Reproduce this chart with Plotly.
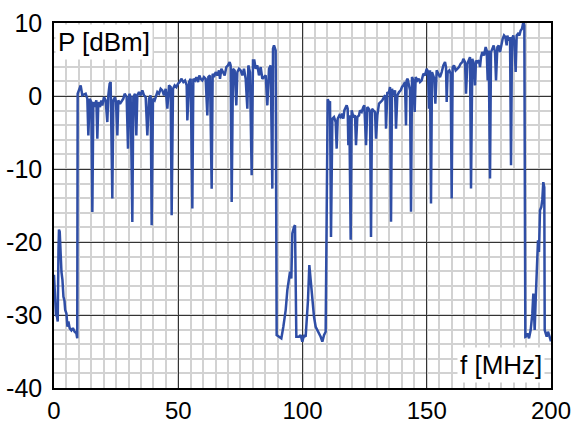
import plotly.graph_objects as go

# Spectrum values (frequency in MHz, power in dBm)
floor1_f = [0.0, 0.3, 0.8, 1.2, 1.5, 1.8, 2.0, 2.3, 2.6, 3.0, 3.4, 3.8, 4.2, 4.5, 5.0, 5.4, 5.8, 6.3, 7.0, 7.6, 8.3, 9.0, 9.35]
floor1_p = [-24.5, -26.1, -30.0, -30.2, -30.9, -21.1, -18.3, -18.6, -21.6, -24.1, -25.2, -27.5, -28.0, -29.3, -29.8, -31.6, -30.9, -31.8, -32.1, -31.8, -32.3, -32.5, -33.2]

band1_f = [9.52, 10.73, 11.40, 12.74, 13.41, 13.82, 14.35, 15.02, 15.43, 15.83, 16.36, 17.04, 17.44, 17.84, 18.51, 19.05, 19.45, 20.12, 20.79, 21.46, 21.86, 22.40, 22.80, 23.47, 23.88, 24.55, 24.95, 25.49, 25.89, 26.56, 27.23, 27.90, 28.44, 29.24, 29.78, 30.32, 30.85, 31.52, 31.92, 32.60, 33.13, 33.53, 34.21, 34.88, 35.55, 36.22, 36.89, 37.56, 38.23, 38.90, 39.30, 39.84, 40.51, 41.05, 41.58, 42.25, 42.92, 43.60, 44.27, 44.94, 45.61, 46.28, 46.95, 47.35, 47.89, 48.56, 49.23, 49.90, 50.57, 51.24, 52.05, 52.72, 53.39, 53.66, 54.33, 55.00, 55.67, 56.07, 56.74, 57.28, 57.95, 58.48, 59.02, 59.69, 60.36, 61.03, 61.70, 62.11, 62.78, 63.45, 63.85, 64.39, 65.06, 65.73, 66.40, 66.80, 67.34, 68.01, 68.68, 69.35, 70.02, 70.69, 71.09, 71.50, 72.03, 72.70, 73.37, 73.78, 74.45, 75.12, 75.79, 76.46, 77.13, 77.80, 78.20, 78.87, 79.54, 80.08, 80.62, 81.15, 81.82, 82.49, 83.17, 83.84, 84.51, 85.18, 85.85, 86.52, 87.19, 87.86, 88.13, 88.53, 89.20]
band1_p = [0.31, 1.45, 0.08, 0.31, -0.37, -5.39, -0.37, -0.83, -15.88, -0.83, -1.51, -0.60, -5.85, -0.83, -1.51, -0.60, -1.29, -0.15, -0.60, -3.57, 0.08, 1.68, 1.91, -14.05, -0.60, -0.15, -0.83, -5.39, -0.60, -1.06, -0.60, -0.37, 0.31, -0.15, -7.21, 0.31, -0.15, -17.25, -0.15, 0.31, -5.39, 0.08, 0.54, 0.08, 0.77, 0.08, -0.15, -5.39, -0.37, 0.08, -17.70, -0.37, -0.60, 0.08, 0.54, 0.31, 0.99, 0.77, 0.08, 0.99, -1.74, 1.45, 1.22, -16.33, 0.99, 1.45, 1.22, 1.68, 1.91, 2.36, 1.91, 2.13, 1.45, -3.34, 1.91, 2.36, -15.42, 2.36, 2.13, 2.59, 1.91, 2.82, 2.36, 2.13, 2.59, 2.36, -2.65, 2.59, 2.82, -12.69, 3.05, 2.59, 3.27, 2.82, 3.50, 2.36, 3.73, 3.27, 2.82, 3.96, 4.19, 4.64, 4.19, -14.51, 3.73, 3.50, -1.29, 3.27, 3.73, 3.50, 2.82, 3.73, 2.36, -1.74, 4.19, 3.27, -10.86, 4.87, 4.87, 3.73, 4.19, 2.82, 3.96, 2.36, 2.59, 2.82, -1.29, 3.73, 4.19, -12.69, 6.47, 6.92, 6.24]

floor2_f = [89.60, 90.54, 91.48, 92.29, 93.23, 93.90, 94.57, 94.97, 95.51, 95.91, 96.58, 96.98, 97.52, 98.59, 99.26, 99.93, 100.60, 101.27, 102.21, 102.75, 103.29, 103.96, 104.63, 105.30, 105.97, 106.64, 107.31, 107.98, 108.65, 109.32]
floor2_p = [-32.75, -32.98, -33.20, -31.61, -29.33, -26.59, -24.77, -24.08, -25.0, -18.84, -17.93, -17.70, -32.98, -32.98, -32.75, -33.66, -32.75, -32.98, -27.96, -23.17, -25.22, -27.96, -30.24, -31.61, -32.06, -32.52, -32.98, -33.66, -32.75, -32.29]

band2_f = [110.13, 110.80, 111.07, 111.47, 112.01, 112.68, 113.35, 113.75, 114.16, 114.83, 115.36, 115.90, 116.44, 116.84, 117.37, 117.78, 118.18, 118.45, 118.85, 119.39, 119.79, 120.46, 121.13, 121.53, 122.07, 122.74, 123.14, 123.81, 124.48, 124.89, 125.56, 126.09, 126.63, 127.17, 127.57, 127.97, 128.51, 129.18, 129.58, 130.12, 130.79, 131.46, 132.13, 132.80, 133.34, 133.61, 134.14, 134.68, 135.22, 135.62, 136.02, 136.56, 137.23, 137.63, 138.17, 138.84, 139.51, 140.04, 140.58, 141.25, 141.65, 141.92, 142.32, 142.86, 143.26, 143.67, 144.07, 144.60, 145.14, 145.54, 146.22, 146.75, 147.29, 147.96, 148.63, 149.30, 149.97, 150.51, 150.91, 151.31, 151.71, 152.12, 152.65, 153.06, 153.46, 153.99, 154.67, 155.34, 156.01, 156.68, 157.35, 157.75, 158.02, 158.42, 159.09, 159.63, 160.03, 160.43, 160.97, 161.64, 162.31, 162.98, 163.65, 164.32, 164.73, 165.40, 165.80, 166.34, 166.87, 167.41, 167.81, 168.35, 169.02, 169.42, 169.82, 170.36, 171.03, 171.43, 171.84, 172.37, 173.04, 173.71, 174.12, 174.52, 174.92, 175.46, 175.86, 176.39, 176.93, 177.47, 177.87, 178.41, 178.94, 179.48, 179.88, 180.55, 181.09, 181.63, 182.16, 182.43, 182.97, 183.51, 183.91, 184.31, 184.85, 185.25, 185.78, 186.19, 186.72, 187.26, 187.80, 188.33, 188.87, 189.27]
band2_p = [-0.46, -0.92, -0.73, -19.3, -3.11, -2.88, -3.56, -7.21, -3.11, -2.65, -2.88, -2.42, -3.11, -1.97, -1.51, -1.28, -1.74, -6.75, -2.65, -19.7, -1.97, -2.88, -2.65, -6.75, -2.88, -2.65, -1.97, -2.19, -1.51, -1.28, -6.75, -1.51, -1.74, -2.19, -19.3, -1.74, -1.97, -2.19, -5.84, -2.65, -1.05, -0.83, -0.60, -0.14, 0.09, -4.47, 0.54, 0.31, 1.23, -17.24, 1.00, 0.09, 0.77, -4.47, 0.09, 0.54, 0.77, 1.23, 1.45, 1.91, -4.02, 2.14, 2.37, 1.45, 0.77, -15.87, 2.59, 2.14, -2.19, 2.59, 2.14, 2.37, 1.91, 2.14, 3.05, 2.82, 3.73, 3.28, -1.74, 3.51, -14.73, 3.28, 2.82, 2.37, -1.05, 3.51, 3.05, 2.59, 3.28, 4.19, 4.65, 3.96, -0.83, 3.28, 3.51, 3.05, -14.05, 3.96, 4.19, 3.51, 3.73, 3.96, 4.42, 4.65, 5.10, 4.65, 0.31, 4.42, 4.87, 5.33, -12.68, 5.10, 4.19, 1.45, 4.87, 4.65, 4.87, 3.96, 5.33, 6.01, 5.56, 6.70, 6.24, 2.14, 6.24, -11.31, 6.01, 6.47, 6.93, 6.01, 2.14, 6.70, 6.93, 6.01, 6.93, 7.84, 8.29, 8.07, 6.93, 8.29, 7.61, 8.07, -9.49, 7.84, 8.29, 7.38, 3.28, 8.29, 8.52, 8.29, 8.98, 9.21, 10.12, 9.66]

floor3_f = [189.67, 189.81, 190.48, 191.15, 191.82, 192.49, 192.89, 193.16, 193.43, 193.83, 194.23, 194.77, 195.17, 195.57, 196.11, 196.5, 196.9, 197.3, 197.47, 198.26, 198.80, 199.6, 200.0]
floor3_p = [-33.0, -32.98, -32.52, -33.20, -32.06, -29.78, -27.05, -29.33, -32.06, -27.96, -22.94, -19.75, -21.35, -15.65, -15.19, -14.2, -11.8, -12.5, -32.06, -32.98, -32.29, -33.2, -33.6]

freq = floor1_f + band1_f + floor2_f + band2_f + floor3_f
power = floor1_p + band1_p + floor2_p + band2_p + floor3_p

x_ticks = [0, 50, 100, 150, 200]
x_ticktext = ["0", "50", "100", "150", "200"]
y_ticks = [10, 0, -10, -20, -30, -40]
y_ticktext = ["10", "0", "-10", "-20", "-30", "-40"]

FONT = "Liberation Sans, Arial, sans-serif"
FS = 25

fig = go.Figure()
fig.add_trace(go.Scatter(x=freq, y=power, mode="lines",
                         line=dict(color="#2f4ea6", width=2.5), hoverinfo="skip"))

axis_common = dict(
    showline=True, linecolor="black", linewidth=1.5, mirror=True,
    showgrid=True, gridcolor="#333333", gridwidth=1.2,
    zeroline=False, ticks="", automargin=False,
    ticklabeloverflow="allow",
)

fig.update_xaxes(range=[0, 200], tickvals=x_ticks, ticktext=x_ticktext, ticklabelstandoff=0,
                 tickfont=dict(family=FONT, size=24, color="black"),
                 minor=dict(dtick=5, tick0=0, showgrid=True, gridcolor="#d2d2d2", gridwidth=1.5),
                 **axis_common)
fig.update_yaxes(range=[-40, 10], tickvals=y_ticks, ticktext=y_ticktext, ticklabelstandoff=5,
                 tickfont=dict(family=FONT, size=FS, color="black"),
                 minor=dict(dtick=2, tick0=0, showgrid=True, gridcolor="#d2d2d2", gridwidth=1.5),
                 **axis_common)

fig.add_annotation(text="P [dBm]", xref="paper", yref="paper", x=0, y=1,
                   xanchor="left", yanchor="top", showarrow=False,
                   xshift=1, yshift=-1, bgcolor="white", borderpad=2,
                   font=dict(family=FONT, size=26, color="black"))
fig.add_annotation(text="f [MHz]", xref="paper", yref="paper", x=1, y=0,
                   xanchor="right", yanchor="bottom", showarrow=False,
                   xshift=-6, yshift=5, bgcolor="white", borderpad=2,
                   font=dict(family=FONT, size=26, color="black"))

fig.update_layout(width=571, height=425,
                  margin=dict(l=54, r=20, t=23, b=37),
                  paper_bgcolor="white", plot_bgcolor="white",
                  showlegend=False)

fig.write_html("out.html")
